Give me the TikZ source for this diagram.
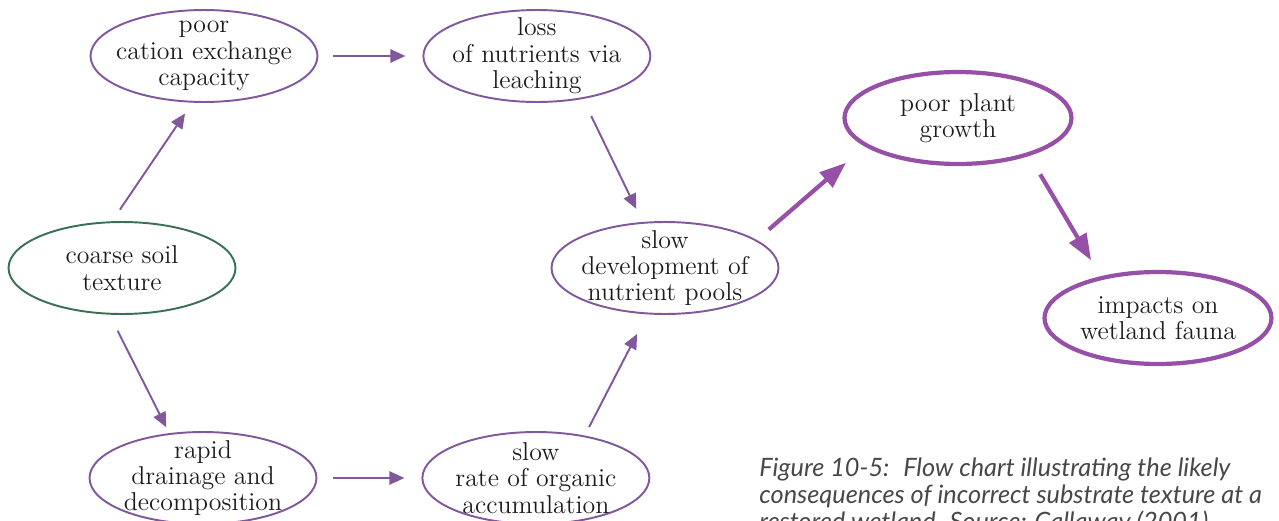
\documentclass[tikz,border=0pt]{standalone}
\usepackage{fontspec}
\newfontfamily\capfont{Lato}
\definecolor{flowpurple}{RGB}{128,88,155}
\definecolor{boldpurple}{RGB}{150,80,168}
\definecolor{soilgreen}{RGB}{58,112,86}
\definecolor{inkgray}{RGB}{28,28,28}
\definecolor{capgray}{RGB}{72,72,72}
\usetikzlibrary{arrows.meta, positioning, shapes.geometric}

\begin{document}
\begin{tikzpicture}[x=0.02cm, y=-0.02cm,
  font=\fontsize{14.7}{15}\selectfont, node distance=5mm and 2.08cm,
  oval/.style={ellipse, draw=flowpurple, line width=1.1pt, align=center,
               text=inkgray, inner xsep=-3mm, inner ysep=-2mm,
               minimum width=4.54cm, minimum height=1.84cm},
  soiloval/.style={oval, draw=soilgreen},
  boldoval/.style={oval, draw=boldpurple, line width=2.4pt},
  ar/.style={-{Triangle[length=8.5pt, width=7.5pt]}, flowpurple, line width=1.1pt},
  boldar/.style={-{Triangle[length=15pt, width=11pt]}, boldpurple, line width=2.4pt}]
\useasboundingbox (0,0) rectangle (1279,521);
\node[soiloval] (soil) at (122,268) {coarse soil\\texture};
\node[oval] (cec) at (204,56) {poor\\cation exchange\\capacity};
\node[oval, right=of cec] (loss) {loss\\of nutrients via\\leaching};
\node[oval] (drain) at (203,478) {rapid\\drainage and\\decomposition};
\node[oval, right=of drain] (rate) {slow\\rate of organic\\accumulation};
\node[oval] (pools) at (665,268) {slow\\development of\\nutrient pools};
\node[boldoval] (growth) at (958,118) {poor plant\\growth};
\node[boldoval] (fauna) at (1158,318) {impacts on\\wetland fauna};
\node[font=\capfont\itshape\fontsize{14.4}{15.3}\selectfont, text=capgray, align=left,
      anchor=north west, inner sep=0pt] (cap) at (759,458)
  {Figure 10-5:~ Flow chart illustrating the likely\\
   consequences of incorrect substrate texture at a\\
   restored wetland. Source: Callaway (2001).};
\draw[ar, shorten <=0.28cm, shorten >=0.26cm] (soil.102) -- (cec.256);
\draw[ar, shorten <=0.36cm, shorten >=0.13cm] (soil.255) -- (drain.127);
\draw[ar, shorten <=0.30cm, shorten >=0.34cm] (cec.east) -- (loss.west);
\draw[ar, shorten <=0.32cm, shorten >=0.34cm] (drain.east) -- (rate.west);
\draw[ar, shorten <=0.38cm, shorten >=0.29cm] (loss.-43) -- (pools.116);
\draw[ar, shorten <=0.19cm, shorten >=0.44cm] (rate.41) -- (pools.249);
\draw[boldar, shorten <=0.32cm, shorten >=0.50cm] (pools.17) -- (growth.197);
\draw[boldar, shorten <=0.43cm, shorten >=0.37cm] (growth.-28) -- (fauna.144);
\end{tikzpicture}
\end{document}
